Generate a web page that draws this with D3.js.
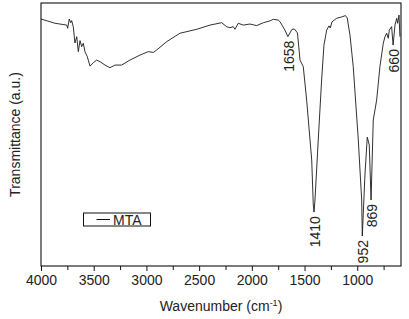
<!DOCTYPE html>
<html>
<head>
<meta charset="utf-8">
<script src="https://cdn.jsdelivr.net/npm/d3@7"></script>
<style>
  body { margin: 0; background: #fff; }
  svg text { font-family: "Liberation Sans", Arial, Helvetica, sans-serif; fill: #222; }
</style>
</head>
<body>
<div id="chart"></div>
<script>
// spectrum: [wavenumber, transmittance (a.u.)]
var spectrum = [
  [4000,93.9],[3867,92.3],[3756,91.6],[3747,90.4],[3732,93.9],[3718,92.5],[3709,93.3],
  [3694,91.0],[3678,84.8],[3661,87.2],[3646,81.5],[3630,85.7],[3614,83.4],[3599,84.7],
  [3583,81.5],[3561,79.6],[3535,76.0],[3504,77.3],[3472,78.3],[3440,77.7],[3393,76.4],
  [3346,75.4],[3298,76.4],[3235,76.4],[3156,78.3],[3061,80.2],[2982,81.5],[2935,81.2],
  [2903,82.1],[2808,85.3],[2682,88.5],[2523,90.0],[2397,91.6],[2286,92.5],[2239,91.0],
  [2207,90.6],[2176,91.0],[2160,90.0],[2129,92.3],[2081,91.6],[2018,92.0],[1954,91.4],
  [1891,92.5],[1828,93.2],[1797,93.8],[1749,93.5],[1733,92.9],[1686,89.7],[1658,87.2],
  [1619,90.0],[1596,90.1],[1567,88.6],[1543,78.3],[1512,75.8],[1480,63.1],[1432,40.3],
  [1417,23.2],[1410,20.5],[1401,25.1],[1370,47.9],[1338,70.7],[1316,84.0],[1290,89.7],
  [1268,91.3],[1256,90.5],[1240,92.8],[1195,94.2],[1148,94.7],[1112,95.2],[1095,94.3],
  [1069,87.8],[1038,75.8],[990,47.9],[958,25.1],[952,11.4],[927,34.6],[905,49.0],
  [886,46.0],[869,25.1],[848,55.5],[816,63.1],[785,75.8],[753,84.7],[737,87.2],
  [721,88.5],[706,86.6],[696,89.7],[674,91.0],[660,84.0],[642,91.6],[626,94.2],
  [617,92.3],[604,95.4],[595,87.2]
];
var peakLabels = [1658, 1410, 952, 869, 660];
var xTicks = [4000, 3500, 3000, 2500, 2000, 1500, 1000];
var xMinorTicks = [3750, 3250, 2750, 2250, 1750, 1250, 750];
var seriesName = "MTA";

var width = 409, height = 319;
var margin = {top: 3, right: 8, bottom: 53, left: 41};

var svg = d3.select("#chart").append("svg")
  .attr("width", width)
  .attr("height", height);

var x = d3.scaleLinear()
  .domain([4000, 585])
  .range([margin.left, width - margin.right]);
var y = d3.scaleLinear()
  .domain([0, 100])
  .range([height - margin.bottom, margin.top]);

// frame
svg.append("rect")
  .attr("x", x.range()[0])
  .attr("y", margin.top)
  .attr("width", x.range()[1] - x.range()[0])
  .attr("height", y.range()[0] - margin.top)
  .attr("fill", "none")
  .attr("stroke", "#111")
  .attr("stroke-width", 1.1);

// x axis
var xAxis = svg.append("g")
  .attr("transform", "translate(0," + y.range()[0] + ")")
  .call(d3.axisBottom(x).tickValues(xTicks).tickSize(5).tickPadding(4).tickFormat(d3.format("d")));
xAxis.select(".domain").remove();
xAxis.selectAll("text").style("font-size", "14px").attr("fill", "#222");
xAxis.selectAll("line").attr("stroke", "#111");

svg.append("g")
  .attr("transform", "translate(0," + y.range()[0] + ")")
  .call(d3.axisBottom(x).tickValues(xMinorTicks).tickSize(4).tickFormat(""))
  .call(function (g) { g.select(".domain").remove(); })
  .selectAll("line").attr("stroke", "#111");

// axis titles
var xt = svg.append("text")
  .attr("x", (x.range()[0] + x.range()[1]) / 2)
  .attr("y", 311)
  .attr("text-anchor", "middle")
  .style("font-size", "14px");
xt.append("tspan").text("Wavenumber (cm");
xt.append("tspan").attr("dy", -5).style("font-size", "9px").text("-1");
xt.append("tspan").attr("dy", 5).text(")");

svg.append("text")
  .attr("transform", "translate(20," + ((margin.top + y.range()[0]) / 2) + ") rotate(-90)")
  .attr("text-anchor", "middle")
  .style("font-size", "14px")
  .text("Transmittance (a.u.)");

// spectrum line
var line = d3.line()
  .x(function (d) { return x(d[0]); })
  .y(function (d) { return y(d[1]); });

svg.append("path")
  .datum(spectrum)
  .attr("d", line)
  .attr("fill", "none")
  .attr("stroke", "#1a1a1a")
  .attr("stroke-width", 0.9);

// peak labels, rotated, just below each tip
var lookup = new Map(spectrum.map(function (d) { return [d[0], d[1]]; }));
svg.selectAll(".peak")
  .data(peakLabels)
  .join("text")
  .attr("class", "peak")
  .attr("transform", function (d) {
    return "translate(" + (x(d) + 1) + "," + (y(lookup.get(d)) + 4) + ") rotate(-90)";
  })
  .attr("text-anchor", "end")
  .attr("dy", "0.36em")
  .style("font-size", "14px")
  .text(function (d) { return d; });

// legend
var legend = svg.append("g").attr("transform", "translate(83.5,213)");
legend.append("rect")
  .attr("width", 67)
  .attr("height", 13)
  .attr("fill", "#fff")
  .attr("stroke", "#111")
  .attr("stroke-width", 1);
legend.append("line")
  .attr("x1", 13).attr("x2", 26.5)
  .attr("y1", 6.5).attr("y2", 6.5)
  .attr("stroke", "#111");
legend.append("text")
  .attr("x", 29.5)
  .attr("y", 11.5)
  .style("font-size", "14px")
  .text(seriesName);
</script>
</body>
</html>
